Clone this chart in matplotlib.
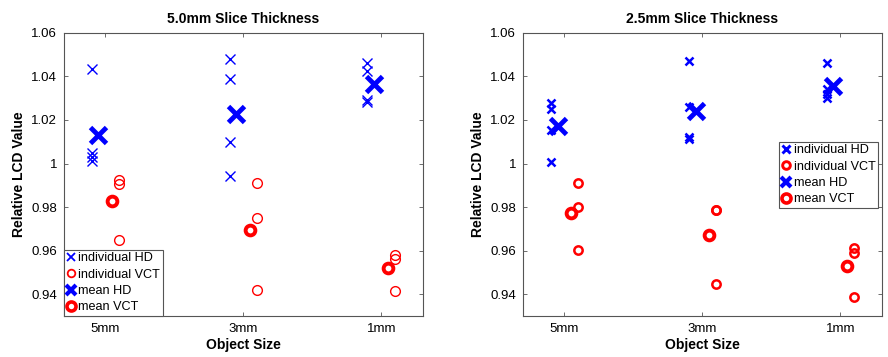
import matplotlib
matplotlib.use("Agg")
import matplotlib.pyplot as plt
from matplotlib.lines import Line2D
import numpy as np

plt.rcParams["font.family"] = ["Liberation Sans", "DejaVu Sans"]

categories = ["5mm", "3mm", "1mm"]
titles = ["5.0mm Slice Thickness", "2.5mm Slice Thickness"]

# individual reader values, one list per object size
hd_ind_50 = [[1.0435, 1.005, 1.003, 1.001],
             [1.0482, 1.0389, 1.010, 0.9943],
             [1.0461, 1.0427, 1.0293, 1.0283]]
vct_ind_50 = [[0.9926, 0.9908, 0.9651],
              [0.9912, 0.9751, 0.9418],
              [0.9580, 0.9562, 0.9415]]
hd_ind_25 = [[1.028, 1.0249, 1.0154, 1.0008],
             [1.0472, 1.0258, 1.0123, 1.0111],
             [1.0461, 1.034, 1.032, 1.030]]
vct_ind_25 = [[0.9912, 0.9800, 0.9605],
              [0.9785, 0.9785, 0.9446],
              [0.9611, 0.9589, 0.9389]]

panels = [(hd_ind_50, vct_ind_50), (hd_ind_25, vct_ind_25)]

fig = plt.figure(figsize=(8.88, 3.57), dpi=100)
ax_rects = [[0.072, 0.115, 0.404, 0.793], [0.589, 0.115, 0.404, 0.793]]
edge = "#555555"

for k, (hd, vct) in enumerate(panels):
    ax = fig.add_axes(ax_rects[k])
    ind_mew = 1.0 if k == 0 else 1.8
    ind_ms = 7 if k == 0 else 6
    pos = np.arange(1, len(categories) + 1)
    for i, p in enumerate(pos):
        ax.plot([p - 0.1] * len(hd[i]), hd[i], "x", color="blue", ms=ind_ms,
                mew=ind_mew, ls="none")
        ax.plot([p + 0.1] * len(vct[i]), vct[i], "o", mfc="none", mec="red",
                ms=ind_ms, mew=ind_mew, ls="none")
    ax.plot(pos - 0.05, [np.mean(v) for v in hd], "x", color="blue", ms=12,
            mew=3.5, ls="none")
    ax.plot(pos + 0.05, [np.mean(v) for v in vct], "o", mfc="none", mec="red",
            ms=7, mew=2.8, ls="none")

    ax.set_xlim(0.7, 3.3)
    ax.set_ylim(0.93, 1.06)
    ax.set_xticks(pos)
    ax.set_xticklabels(categories)
    yt = np.arange(0.94, 1.0601, 0.02)
    ax.set_yticks(yt)
    ax.set_yticklabels(["%g" % round(v, 2) for v in yt])
    ax.tick_params(direction="in", top=True, right=True, length=3,
                   width=0.6, color=edge, labelsize=9.5, pad=5)
    for s in ax.spines.values():
        s.set_color(edge)
        s.set_linewidth(0.8)
    ax.set_title(titles[k], fontsize=10, fontweight="bold", pad=7)
    ax.set_xlabel("Object Size", fontsize=10, fontweight="bold", labelpad=2)
    ax.set_ylabel("Relative LCD Value", fontsize=10, fontweight="bold")

    # legend handles drawn smaller than the data markers, as in the source
    handles = [
        Line2D([], [], marker="x", color="blue", ls="none", ms=6, mew=ind_mew + 0.3),
        Line2D([], [], marker="o", mfc="none", mec="red", ls="none", ms=5.5,
               mew=ind_mew + 0.3),
        Line2D([], [], marker="x", color="blue", ls="none", ms=7, mew=3),
        Line2D([], [], marker="o", mfc="none", mec="red", ls="none", ms=6.5, mew=2.6),
    ]
    labels = ["individual HD", "individual VCT", "mean HD", "mean VCT"]
    if k == 0:
        anchor, loc = (0, 0), "lower left"
    else:
        anchor, loc = (0.714, 0.616), "upper left"
    leg = ax.legend(handles, labels, loc=loc, bbox_to_anchor=anchor,
                    borderaxespad=0, fontsize=9.1, handlelength=0.7,
                    handletextpad=0.25, labelspacing=0.35, borderpad=0.2,
                    fancybox=False, framealpha=1)
    leg.get_frame().set_edgecolor(edge)
    leg.get_frame().set_linewidth(0.8)

fig.savefig("out.png", dpi=100)
